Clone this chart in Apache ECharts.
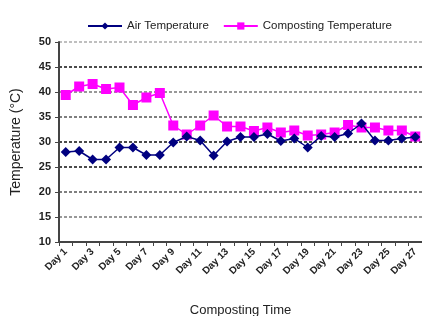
<!DOCTYPE html>
<html>
<head>
<meta charset="utf-8">
<script src="https://cdn.jsdelivr.net/npm/echarts@6/dist/echarts.min.js"></script>
<style>html,body{margin:0;padding:0;background:#fff;}#c{width:422px;height:316px;}</style>
</head>
<body>
<div id="c"></div>
<script>
const categories = ['Day 1','Day 2','Day 3','Day 4','Day 5','Day 6','Day 7','Day 8','Day 9','Day 10','Day 11','Day 12','Day 13','Day 14','Day 15','Day 16','Day 17','Day 18','Day 19','Day 20','Day 21','Day 22','Day 23','Day 24','Day 25','Day 26','Day 27'];
const airTemperature = [28.0,28.2,26.5,26.5,28.9,28.9,27.4,27.4,29.9,31.1,30.3,27.3,30.1,31.0,31.0,31.6,30.2,30.7,28.9,31.2,31.0,31.7,33.7,30.3,30.3,30.7,31.0];
const compostingTemperature = [39.4,41.1,41.6,40.6,40.9,37.4,38.9,39.8,33.3,31.5,33.3,35.3,33.1,33.1,32.2,32.9,31.9,32.3,31.3,31.5,31.9,33.4,32.9,32.9,32.3,32.3,31.1];
const yTicks = [10,15,20,25,30,35,40,45,50];

const font = 'Liberation Sans';
const chart = echarts.init(document.getElementById('c'), null, {renderer:'canvas'});
chart.setOption({
  animation:false,
  textStyle:{fontFamily:font},
  legend:{
    top:15, left:82, itemGap:14, itemWidth:34, itemHeight:9,
    textStyle:{fontSize:11.5, color:'#222', fontFamily:font},
    data:['Air Temperature','Composting Temperature']
  },
  grid:{left:59, right:0, top:42, bottom:74, containLabel:false, outerBoundsMode:'none'},
  xAxis:{
    type:'category', data:categories, boundaryGap:true,
    name:'Composting Time', nameLocation:'middle', nameGap:62,
    nameTextStyle:{fontSize:13, color:'#222', fontFamily:font},
    axisLine:{lineStyle:{color:'#444', width:2}},
    axisTick:{show:true, interval:0, length:4, lineStyle:{color:'#444'}},
    axisLabel:{interval:1, rotate:45, fontSize:10, fontWeight:'bold', color:'#222', margin:8, fontFamily:font},
    splitLine:{show:false}
  },
  yAxis:{
    type:'value', min:yTicks[0], max:yTicks[yTicks.length-1], interval:5,
    name:'Temperature (°C)', nameLocation:'middle', nameGap:36, nameRotate:90,
    nameTextStyle:{fontSize:14, color:'#222', fontFamily:font},
    axisLine:{show:true, lineStyle:{color:'#444', width:2}},
    axisTick:{show:true, length:4, lineStyle:{color:'#444'}},
    axisLabel:{fontSize:11, fontWeight:'bold', color:'#222', margin:8, fontFamily:font},
    splitLine:{show:true, lineStyle:{type:[3,2], width:1.5, color:['#333','#777','#555','#111','#111','#555','#777','#111','#aaa']}}
  },
  series:[
    {name:'Air Temperature', type:'line', data:airTemperature, symbol:'diamond', symbolSize:10, showAllSymbol:true,
      itemStyle:{color:'#000080'}, lineStyle:{color:'#000080', width:1.5}, z:3},
    {name:'Composting Temperature', type:'line', data:compostingTemperature, symbol:'rect', symbolSize:10, showAllSymbol:true,
      itemStyle:{color:'#ff00ff'}, lineStyle:{color:'#ff00ff', width:1.5}, z:2}
  ]
});
</script>
</body>
</html>
